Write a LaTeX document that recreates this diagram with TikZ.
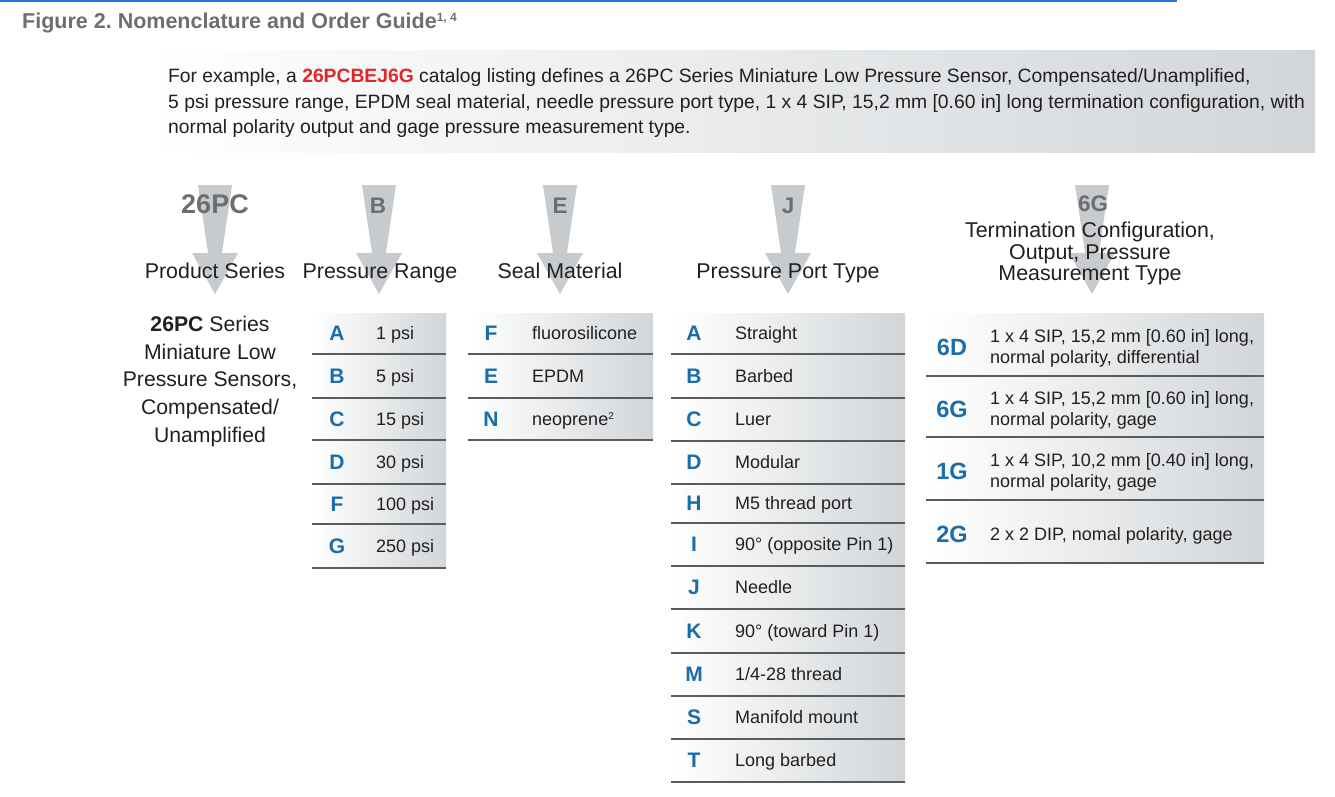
\documentclass[tikz,border=0pt]{standalone}
\usepackage{fontspec}
\setmainfont{Liberation Sans}
\usetikzlibrary{positioning,calc,backgrounds}
\definecolor{hwblue}{HTML}{1B6CA8}
\definecolor{hwred}{HTML}{E2262B}
\definecolor{hwgray}{HTML}{6D6E71}
\definecolor{ink}{HTML}{231F20}
\definecolor{arrowgray}{HTML}{C7CBCE}
\definecolor{panel}{HTML}{D2D6D9}
\definecolor{rulegray}{HTML}{5A5B5D}
\definecolor{linkblue}{HTML}{2D6FDC}
\tikzset{
    nomen/.style={x=1pt, y=-1pt, text=ink, inner sep=0pt},
    % grey pointers behind the code letters
    pointer/.style={fill=arrowgray, draw=none},
    codeletter/.style={font=\bfseries\fontsize{22.5}{22}\selectfont, text=hwgray, anchor=base},
    heading/.style={font=\fontsize{21.4}{21.5}\selectfont, align=center, anchor=base},
    % table cells
    optcode/.style={font=\bfseries\fontsize{21}{21}\selectfont, text=hwblue, anchor=base},
    optval/.style={font=\fontsize{18}{22}\selectfont, anchor=base west},
    tablebg/.style={left color=white, right color=panel, draw=none},
    rowsep/.style={draw=rulegray, line width=1.3pt}
}
\begin{document}
\begin{tikzpicture}[nomen]
\useasboundingbox (0,0) rectangle (1335,796);
\draw[linkblue, line width=2pt] (0,1) -- (1177,1);
\node[anchor=base west, text=hwgray, font=\bfseries\fontsize{21.5}{22}\selectfont]
    (title) at (22,28) {Figure 2.\ Nomenclature and Order Guide\raisebox{7pt}{\fontsize{12}{12}\selectfont 1, 4}};

% example panel
\shade[tablebg] (150,50) rectangle (1315,152);
\begin{scope}[every node/.style={anchor=base west, font=\fontsize{19.3}{22}\selectfont}]
\node (ex1) at (168,82) {For example, a \textcolor{hwred}{\bfseries 26PCBEJ6G} catalog listing defines a 26PC Series Miniature Low Pressure Sensor, Compensated/Unamplified,};
\node (ex2) at (168,108) {5 psi pressure range, EPDM seal material, needle pressure port type, 1 x 4 SIP, 15,2 mm [0.60 in] long termination configuration, with};
\node (ex3) at (168,133) {normal polarity output and gage pressure measurement type.};
\end{scope}

% pointers
\foreach \cx in {215,379,560,788,1092}
  \fill[pointer] (\cx-17,185) -- (\cx+17,185) -- (\cx+7,253) -- (\cx+23,253)
     -- (\cx,294) -- (\cx-23,253) -- (\cx-7,253) -- cycle;

\node[codeletter, font=\bfseries\fontsize{27}{27}\selectfont] (cdseries) at (215,213) {26PC};
\node[codeletter] (cdrange) at (378,213) {B};
\node[codeletter] (cdseal) at (560,213) {E};
\node[codeletter] (cdport) at (788,213) {J};
\node[codeletter] (cdterm) at (1093,211) {6G};

\node[heading] (hdseries) at (215,278) {Product Series};
\node[heading] (hdrange) at (380,278) {Pressure Range};
\node[heading] (hdseal) at (560,278) {Seal Material};
\node[heading] (hdport) at (788,278) {Pressure Port Type};
\node[heading, anchor=north] (hdterm) at (1090,222)
    {Termination Configuration,\\Output, Pressure\\Measurement Type};

\node[anchor=north, align=center, font=\fontsize{21.2}{27.7}\selectfont] (series) at (210,316)
    {\textbf{26PC} Series\\Miniature Low\\Pressure Sensors,\\Compensated/\\Unamplified};

% pressure range
\shade[tablebg] (312,313) rectangle (446,568);
\foreach \c/\v/\t/\b in {A/1 psi/313/354, B/5 psi/354/398, C/15 psi/398/440,
                         D/30 psi/440/484, F/100 psi/484/524, G/250 psi/524/568}{
  \node[optcode] (rg\c) at (337,{(\t+\b)/2+7}) {\c};
  \node[optval] (rg\c v) at (376,{(\t+\b)/2+6}) {\v};
  \draw[rowsep] (312,\b) -- (446,\b);
}

% seal material
\shade[tablebg] (468,313) rectangle (653,440);
\foreach \c/\v/\t/\b in {F/fluorosilicone/313/354, E/EPDM/354/398,
                         N/{neoprene\raisebox{6pt}{\fontsize{10}{10}\selectfont 2}}/398/440}{
  \node[optcode] (sl\c) at (491,{(\t+\b)/2+7}) {\c};
  \node[optval] (sl\c v) at (532,{(\t+\b)/2+6}) {\v};
  \draw[rowsep] (468,\b) -- (653,\b);
}

% pressure port type
\shade[tablebg] (671,313) rectangle (905,782);
\foreach \c/\v/\t/\b in {A/Straight/313/354, B/Barbed/354/398, C/Luer/398/441,
                         D/Modular/441/484, H/M5 thread port/484/523,
                         I/90° (opposite Pin 1)/523/566, J/Needle/566/609,
                         K/90° (toward Pin 1)/609/653, M/{1/4-28 thread}/653/696,
                         S/Manifold mount/696/739, T/Long barbed/739/782}{
  \node[optcode] (pt\c) at (694,{(\t+\b)/2+7}) {\c};
  \node[optval] (pt\c v) at (735,{(\t+\b)/2+6}) {\v};
  \draw[rowsep] (671,\b) -- (905,\b);
}

% termination configuration
\shade[tablebg] (926,313) rectangle (1264,563);
\foreach \c/\v/\t/\b in {6D/{1 x 4 SIP, 15,2 mm [0.60 in] long,\\normal polarity, differential}/313/376,
                         6G/{1 x 4 SIP, 15,2 mm [0.60 in] long,\\normal polarity, gage}/376/437,
                         1G/{1 x 4 SIP, 10,2 mm [0.40 in] long,\\normal polarity, gage}/437/500,
                         2G/{2 x 2 DIP, nomal polarity, gage}/500/563}{
  \node[optcode, font=\bfseries\fontsize{23.5}{23.5}\selectfont] (tm\c) at (952,{(\t+\b)/2+11}) {\c};
  \node[optval, anchor=west, align=left, font=\fontsize{18}{21.5}\selectfont]
      (tm\c v) at (990,{(\t+\b)/2+4}) {\v};
  \draw[rowsep] (926,\b) -- (1264,\b);
}
\end{tikzpicture}
\end{document}
